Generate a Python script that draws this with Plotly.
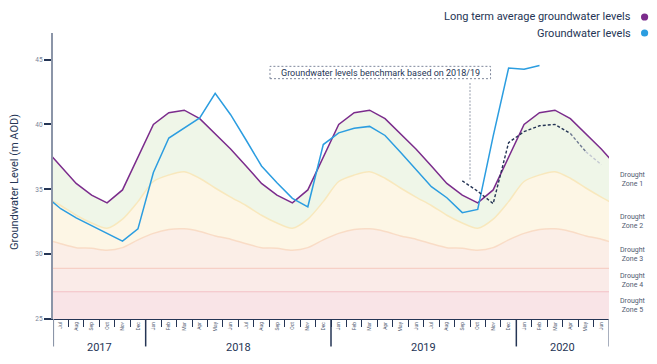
import plotly.graph_objects as go
import pandas as pd

# ---------------- data ----------------
periods = pd.period_range("2017-06", "2020-07", freq="M")  # Jun 2017 / Jul 2020 sit just outside the view

# long term average groundwater level by calendar month (Jan..Dec), m AOD
lta_by_month = [40.0, 40.9, 41.1, 40.45, 39.3, 38.1, 36.8, 35.45, 34.55, 33.95, 34.95, 37.5]
# drought zone boundaries by calendar month (Jan..Dec)
zone12_by_month = [35.6, 36.1, 36.35, 35.85, 35.1, 34.4, 33.75, 33.0, 32.4, 32.0, 32.7, 34.05]
zone23_by_month = [31.6, 31.9, 31.95, 31.75, 31.4, 31.15, 30.8, 30.5, 30.45, 30.3, 30.5, 31.1]
zone34_level = 28.9
zone45_level = 27.1
axis_floor = 25

# observed groundwater levels, Jun 2017 .. Jul 2020
groundwater = [34.5, 33.5, 32.8, 32.2, 31.6, 31.0, 31.95,
               36.3, 38.95, 39.7, 40.5, 42.4, 40.75, 38.8, 36.8, 35.5, 34.3, 33.65, 38.45,
               39.35, 39.7, 39.85, 39.15, 37.85, 36.5, 35.2, 34.35, 33.2, 33.45, 39.1, 44.35,
               44.25, 44.55, None, None, None, None, None]

benchmark_months = ["2019-09", "2019-10", "2019-11", "2019-12", "2020-01", "2020-02",
                    "2020-03", "2020-04", "2020-05", "2020-06"]
benchmark = [35.65, 34.85, 33.9, 38.6, 39.45, 39.9, 40.0, 39.3, 37.9, 36.9]

zone_names = ["Drought<br>Zone 1", "Drought<br>Zone 2", "Drought<br>Zone 3",
              "Drought<br>Zone 4", "Drought<br>Zone 5"]
legend_names = ["Long term average groundwater levels", "Groundwater levels"]
benchmark_label = "Groundwater levels benchmark based on 2018/19"

# ---------------- derived ----------------
NAVY = "#253555"
PURPLE = "#7b2c8c"
BLUE = "#2b9de0"
AXGRAY = "#8b95a8"
FONT = "Roboto"

xpos = list(range(-1, len(periods) - 1))
months = [p.month for p in periods]
lta = [lta_by_month[m - 1] for m in months]
z12 = [zone12_by_month[m - 1] for m in months]
z23 = [zone23_by_month[m - 1] for m in months]
n = len(periods)
pos_of = {str(p): xi for p, xi in zip(periods, xpos)}
bx = [pos_of[m] for m in benchmark_months]

vis = [(xi, p) for xi, p in zip(xpos, periods) if 0 <= xi <= n - 3]
xmin, xmax = vis[0][0] - 0.5, vis[-1][0] + 0.5

fig = go.Figure()

def add_line(y, color, width, fill=None, fillcolor=None, shape="linear"):
    fig.add_trace(go.Scatter(x=xpos, y=y, mode="lines",
                             line=dict(color=color, width=width, shape=shape, smoothing=0.8),
                             fill=fill, fillcolor=fillcolor, showlegend=False, hoverinfo="skip"))

add_line([axis_floor] * n, "rgba(0,0,0,0)", 0)
add_line([zone45_level] * n, "#f3bfc4", 1.2, "tonexty", "#f9e4e7")
add_line([zone34_level] * n, "#f6d0c6", 1.2, "tonexty", "#faebe8")
add_line(z23, "#f9dcc6", 1.5, "tonexty", "#fbeee7", "spline")
add_line(z12, "#f8e8bd", 1.5, "tonexty", "#fdf6e5", "spline")
add_line(lta, PURPLE, 1.5, "tonexty", "#eff6e8")

fig.add_trace(go.Scatter(x=xpos, y=groundwater, mode="lines", line=dict(color=BLUE, width=1.5),
                         showlegend=False, hoverinfo="skip", connectgaps=False))

# benchmark: main dashed part, then fading tail
fig.add_trace(go.Scatter(x=bx[:-2], y=benchmark[:-2], mode="lines",
                         line=dict(color=NAVY, width=1.4, dash="3px,2px"),
                         showlegend=False, hoverinfo="skip"))
fig.add_trace(go.Scatter(x=bx[-3:-1], y=benchmark[-3:-1], mode="lines",
                         line=dict(color="#6f7a92", width=1.4, dash="3px,2px"),
                         showlegend=False, hoverinfo="skip"))
fig.add_trace(go.Scatter(x=bx[-2:], y=benchmark[-2:], mode="lines",
                         line=dict(color="#c3c8d2", width=1.4, dash="3px,2px"),
                         showlegend=False, hoverinfo="skip"))

shapes = []
annotations = []

# year separators and year labels
jan_pos = [xi - 0.5 for xi, p in vis if p.month == 1]
bounds = [xmin] + jan_pos + [xmax]
for i, b in enumerate(bounds):
    edge = i == 0 or i == len(bounds) - 1
    shapes.append(dict(type="line", xref="x", yref="paper", x0=b, x1=b, y0=0, y1=-0.096,
                       line=dict(color=AXGRAY if edge else NAVY, width=2.2 if i == 0 else 1.5),
                       layer="above"))
years = sorted(set(p.year for _, p in vis))
for yr in years:
    xs = [xi for xi, p in vis if p.year == yr]
    annotations.append(dict(x=(min(xs) + max(xs)) / 2, y=-0.1, xref="x", yref="paper",
                            text=str(yr), showarrow=False, xanchor="center", yanchor="middle",
                            font=dict(family=FONT, size=11, color=NAVY)))

# benchmark callout
shapes.append(dict(type="rect", xref="x", yref="y", x0=13.55, x1=27.83, y0=43.53, y1=44.48,
                   line=dict(color="#7d869a", width=1, dash="2px,2px"), fillcolor="white"))
annotations.append(dict(x=(13.55 + 27.83) / 2, y=(43.53 + 44.48) / 2, xref="x", yref="y",
                        text=benchmark_label, showarrow=False, xanchor="center", yanchor="middle",
                        font=dict(family=FONT, size=9, color=NAVY)))
shapes.append(dict(type="line", xref="x", yref="y", x0=26.5, x1=26.5, y0=43.2, y1=35.75,
                   line=dict(color="#b9bec8", width=1.5, dash="2px,1.5px")))

# zone labels at right, centred on bands at the right edge
edge_vals = [(a + b) / 2 for a, b in zip([lta[-2], z12[-2], z23[-2]], [lta[-1], z12[-1], z23[-1]])]
levels = edge_vals + [zone34_level, zone45_level, axis_floor]
for i, name in enumerate(zone_names):
    annotations.append(dict(x=1.043, y=(levels[i] + levels[i + 1]) / 2, xref="paper", yref="y",
                            text=name, showarrow=False, xanchor="center", yanchor="middle",
                            align="center", font=dict(family=FONT, size=7, color="#4f5a70")))

# custom legend (text then dot)
for name, color, yp in zip(legend_names, [PURPLE, BLUE], [1.056, 1.0]):
    annotations.append(dict(x=1.0435, y=yp, xref="paper", yref="paper", text=name,
                            showarrow=False, xanchor="right", yanchor="middle",
                            font=dict(family=FONT, size=11, color=NAVY)))
    shapes.append(dict(type="circle", xref="paper", yref="paper", xsizemode="pixel",
                       ysizemode="pixel", xanchor=1.064, yanchor=yp, x0=-3.6, x1=3.6,
                       y0=-3.6, y1=3.6, fillcolor=color, line=dict(width=0)))

# y axis title
annotations.append(dict(x=-0.068, y=0.48, xref="paper", yref="paper",
                        text="Groundwater Level (m AOD)", textangle=-90, showarrow=False,
                        xanchor="center", yanchor="middle",
                        font=dict(family=FONT, size=11, color=NAVY)))

fig.update_layout(
    width=657, height=364,
    margin=dict(l=53, r=48, t=33, b=45),
    paper_bgcolor="white", plot_bgcolor="white",
    shapes=shapes, annotations=annotations,
    showlegend=False,
    xaxis=dict(range=[xmin, xmax], showgrid=False, zeroline=False,
               tickvals=[xi for xi, _ in vis], ticktext=[p.strftime("%b") for _, p in vis],
               tickangle=-90, ticks="", tickfont=dict(family=FONT, size=5, color="#4f5a70"),
               showline=True, linecolor=NAVY, linewidth=1,
               minor=dict(tickvals=[xi - 0.5 for xi, _ in vis][1:], ticks="outside",
                          ticklen=7, tickcolor=NAVY, tickwidth=1.3)),
    yaxis=dict(range=[axis_floor, 47.05], showgrid=False, zeroline=False,
               tickvals=[25, 30, 35, 40, 45], ticks="outside", ticklen=7, tickwidth=1.5,
               tickcolor=NAVY, tickfont=dict(family=FONT, size=6.5, color="#7a8599"),
               showline=True, linecolor=AXGRAY, linewidth=2.2),
)

# remove the default 8px page margin so the figure sits at the window origin
fig.write_html("out.html", config={"displayModeBar": False},
               post_script="document.body.style.margin='0';document.body.style.overflow='hidden';")
